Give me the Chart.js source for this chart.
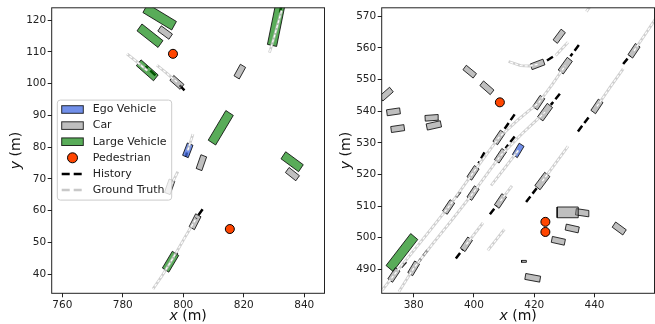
<!DOCTYPE html>
<html>
<head>
<meta charset="utf-8">
<script src="https://cdn.jsdelivr.net/npm/chart.js@4.4.0/dist/chart.umd.min.js"></script>
<style>
  html, body { margin: 0; padding: 0; background: #fff; overflow: hidden; }
  #wrap { position: relative; width: 655px; height: 324px; overflow: hidden; }
  .panel { position: absolute; top: 0; width: 330px; height: 324px; }
</style>
</head>
<body>
<div id="wrap">
  <div class="panel" style="left:0"><canvas id="left" width="330" height="324"></canvas></div>
  <div class="panel" style="left:330px"><canvas id="right" width="330" height="324"></canvas></div>
</div>
<script>
// ---------- left scene ----------
const leftXTicks = [760, 780, 800, 820, 840];
const leftYTicks = [40, 50, 60, 70, 80, 90, 100, 110, 120];
const leftXLim = [756.5, 846.7];
const leftYLim = [33.95, 123.9];

// vehicles: [x, y, heading deg, length, width] (m)
const leftEgo = [[801.5, 79.0, 68, 4.2, 2.0]];
const leftCars = [
  [794.0, 116.1, -35, 4.5, 2.0],
  [797.9, 100.4, -40, 4.4, 2.0],
  [818.7, 103.8, 60, 4.2, 2.0],
  [806.0, 75.1, 70, 4.6, 2.0],
  [836.1, 71.5, -37, 4.3, 2.0],
  [795.5, 67.5, 70, 4.5, 2.0],
  [803.9, 56.5, 62, 4.6, 2.0]
];
const leftLarge = [
  [792.2, 121.0, -30, 11, 3.1],
  [789.0, 115.1, -37, 8.7, 2.7],
  [788.1, 104.2, -40, 7.4, 2.4],
  [830.8, 118.9, 78, 14, 3.1],
  [812.4, 86.1, 58, 11, 2.9],
  [836.0, 75.4, -35, 7.1, 2.7],
  [795.8, 43.9, 58, 6.2, 2.5]
];
const leftPeds = [[796.6, 109.4], [815.4, 54.2]];
const leftHistory = [
  [[790.8, 102.6], [787.5, 105.5]],
  [[800.4, 97.9], [798.0, 100.3]],
  [[800.9, 77.0], [801.2, 78.3]],
  [[806.4, 60.4], [804.2, 57.5]],
  [[798.0, 46.8], [797.0, 45.5]],
  [[832.4, 124.5], [831.8, 121.5]]
];
const leftTruth = [
  [[788.1, 104.1], [784.5, 107.0], [781.4, 109.4]],
  [[797.9, 100.5], [794.5, 103.3], [791.3, 105.8]],
  [[832.5, 123.0], [830.0, 114.5], [828.5, 109.8]],
  [[801.5, 79.0], [803.2, 84.1]],
  [[796.0, 68.0], [798.2, 72.3]],
  [[804.0, 57.1], [800.5, 51.5], [797.5, 46.5], [795.8, 43.8], [793.0, 39.5], [790.0, 35.3]]
];

// ---------- right scene ----------
const rightXTicks = [380, 400, 420, 440];
const rightYTicks = [490, 500, 510, 520, 530, 540, 550, 560, 570];
const rightXLim = [369.4, 459.9];
const rightYLim = [482.4, 572.7];

const rightEgo = [[414.7, 527.6, 58, 4.2, 1.9]];
const rightCars = [
  [373.45, 488.2, 55, 4.3, 1.9],
  [380.0, 490.3, 58, 4.3, 1.9],
  [397.5, 497.9, 55, 4.3, 1.9],
  [391.6, 509.7, 55, 4.3, 1.9],
  [399.7, 514.1, 55, 4.3, 1.9],
  [399.7, 520.5, 55, 4.3, 1.9],
  [408.8, 511.6, 55, 4.3, 1.9],
  [408.8, 525.9, 55, 4.3, 1.9],
  [408.3, 531.7, 55, 4.3, 1.9],
  [422.7, 517.9, 52, 5.3, 2.2],
  [421.5, 542.7, 55, 4.3, 1.9],
  [423.6, 539.7, 53, 5.3, 2.2],
  [430.3, 554.4, 53, 5.0, 2.1],
  [421.1, 554.8, 20, 4.5, 1.9],
  [428.3, 563.7, 52, 4.3, 1.8],
  [440.8, 541.5, 55, 4.3, 1.9],
  [453.1, 559.1, 55, 4.3, 1.9],
  [398.6, 552.5, -38, 4.3, 1.8],
  [404.3, 547.4, -40, 4.5, 1.9],
  [370.9, 545.4, 40, 4.5, 1.9],
  [373.3, 539.8, 8, 4.4, 1.9],
  [374.7, 534.5, 8, 4.4, 1.9],
  [386.0, 537.9, 4, 4.4, 1.8],
  [386.7, 535.5, 12, 4.8, 2.0],
  [431.1, 508.0, 0, 7.0, 3.4],
  [435.9, 507.9, -8, 4.2, 2.0],
  [432.6, 502.9, -12, 4.4, 1.9],
  [428.0, 499.0, -12, 4.4, 1.9],
  [448.2, 502.9, -35, 4.3, 2.0],
  [416.6, 492.5, 0, 1.6, 0.6],
  [419.5, 487.3, -10, 5.0, 1.9]
];
const rightLarge = [[376.1, 495.3, 51, 13, 3.0]];
const rightPeds = [[408.6, 542.8], [423.7, 505.0], [423.7, 501.8]];
const rightHistory = [
  [[377.5, 492.3], [375.0, 489.8]],
  [[384.6, 496.0], [381.7, 492.4]],
  [[394.0, 493.4], [396.3, 496.3]],
  [[405.3, 507.4], [407.6, 510.2]],
  [[417.3, 511.3], [420.8, 515.6]],
  [[395.5, 514.5], [393.3, 511.8]],
  [[403.5, 527.0], [401.5, 523.5]],
  [[413.5, 532.0], [410.5, 528.3]],
  [[413.5, 539.0], [409.5, 533.5]],
  [[428.5, 545.5], [425.5, 542.0]],
  [[434.8, 560.9], [432.0, 557.4]],
  [[426.2, 557.2], [423.5, 555.6]],
  [[434.5, 533.6], [438.5, 538.6]],
  [[449.5, 554.9], [451.8, 557.6]]
];
const rightTruth = [
  [[369.6, 483.4], [373.5, 488.2], [379.5, 495.3], [385.5, 502.4], [391.6, 509.7], [399.7, 520.5], [408.3, 531.7], [414.8, 537.4], [421.5, 542.7], [426.0, 548.5], [430.3, 554.4]],
  [[375.1, 482.9], [380.0, 490.3], [386.3, 498.0], [392.6, 505.5], [399.7, 514.1], [408.8, 525.9], [416.2, 533.1], [423.6, 539.7]],
  [[414.7, 527.6], [410.2, 522.0], [405.7, 516.5]],
  [[422.7, 517.9], [427.0, 523.4], [431.2, 528.9]],
  [[408.8, 511.6], [412.6, 516.4]],
  [[404.6, 496.0], [410.1, 502.6]],
  [[397.5, 497.9], [403.0, 504.7]],
  [[440.8, 541.5], [445.2, 547.6], [449.5, 553.4]],
  [[453.1, 559.1], [457.0, 564.6], [461.5, 571.0]],
  [[421.1, 554.8], [418.5, 554.3], [415.5, 554.4], [411.5, 555.7]],
  [[431.2, 561.8], [427.1, 557.6]],
  [[437.3, 571.5], [438.8, 573.5]]
];

const legendLabels = ['Ego Vehicle', 'Car', 'Large Vehicle', 'Pedestrian', 'History', 'Ground Truth'];

const EGO_FILL = 'rgba(65,105,225,0.75)';
const CAR_FILL = 'rgba(128,128,128,0.5)';
const LARGE_FILL = 'rgba(0,128,0,0.65)';
const EDGE = 'rgba(0,0,0,0.8)';
const PED_FILL = '#ff4500';
const TRUTH_COLOR = 'rgba(195,195,195,0.8)';
const FONT = 'DejaVu Sans';

const pts = (list) => list.map(([x, y]) => ({ x, y }));

// rectangle outline of a vehicle in metres
function box(v) {
  const [x, y, h, len, wid] = v;
  const a = h * Math.PI / 180, c = Math.cos(a), s = Math.sin(a);
  const hl = len / 2, hw = wid / 2;
  return [[hl, hw], [-hl, hw], [-hl, -hw], [hl, -hw], [hl, hw]]
    .map(([u, w]) => ({ x: x + u * c - w * s, y: y + u * s + w * c }));
}

function sceneDatasets(s) {
  const sets = [];
  s.history.forEach((p) => sets.push({
    data: pts(p), borderColor: '#000', borderWidth: 2.5, borderDash: [7, 3.5],
    pointRadius: 0, fill: false, order: 4
  }));
  [[s.ego, EGO_FILL], [s.cars, CAR_FILL], [s.large, LARGE_FILL]].forEach(([list, col]) => {
    list.forEach((v) => sets.push({
      data: box(v), backgroundColor: col, borderColor: EDGE, borderWidth: 1,
      borderJoinStyle: 'miter', pointRadius: 0, fill: 'shape', order: 3
    }));
  });
  s.truth.forEach((p) => {
    sets.push({ data: pts(p), borderColor: TRUTH_COLOR, borderWidth: 2.8, pointRadius: 0, fill: false, order: 2 });
    sets.push({ data: pts(p), borderColor: '#fff', borderWidth: 1.2, borderDash: [3, 2], pointRadius: 0, fill: false, order: 1.5 });
  });
  sets.push({
    data: pts(s.peds), showLine: false, pointRadius: 4.5,
    pointBackgroundColor: PED_FILL, pointBorderColor: '#000', pointBorderWidth: 1, order: 1
  });
  return sets;
}

function drawLabel(ctx, cx, cy, italicPart, rest) {
  ctx.font = 'italic 14px "' + FONT + '"';
  const w1 = ctx.measureText(italicPart).width;
  ctx.font = '14px "' + FONT + '"';
  const w2 = ctx.measureText(rest).width;
  const x0 = cx - (w1 + w2) / 2;
  ctx.textBaseline = 'middle';
  ctx.textAlign = 'left';
  ctx.fillStyle = '#111';
  ctx.font = 'italic 14px "' + FONT + '"';
  ctx.fillText(italicPart, x0, cy);
  ctx.font = '14px "' + FONT + '"';
  ctx.fillText(rest, x0 + w1, cy);
}

const framePlugin = {
  id: 'frame',
  afterDraw(chart) {
    const { ctx, chartArea: ca } = chart;
    ctx.save();
    ctx.strokeStyle = '#222';
    ctx.lineWidth = 1;
    ctx.strokeRect(ca.left, ca.top, ca.right - ca.left, ca.bottom - ca.top);
    drawLabel(ctx, (ca.left + ca.right) / 2, ca.bottom + 23, 'x', ' (m)');
    ctx.translate(16, (ca.top + ca.bottom) / 2);
    ctx.rotate(-Math.PI / 2);
    drawLabel(ctx, 0, 0, 'y', ' (m)');
    ctx.restore();
  }
};

const legendPlugin = {
  id: 'sceneLegend',
  afterDraw(chart, args, opts) {
    if (!opts.show) return;
    const { ctx, chartArea: ca } = chart;
    const x0 = ca.left + 5.6, y0 = ca.top + 92.3, w = 114.4, h = 100, r = 3;
    ctx.save();
    ctx.beginPath();
    ctx.moveTo(x0 + r, y0);
    ctx.arcTo(x0 + w, y0, x0 + w, y0 + h, r);
    ctx.arcTo(x0 + w, y0 + h, x0, y0 + h, r);
    ctx.arcTo(x0, y0 + h, x0, y0, r);
    ctx.arcTo(x0, y0, x0 + w, y0, r);
    ctx.closePath();
    ctx.fillStyle = 'rgba(255,255,255,0.8)';
    ctx.fill();
    ctx.strokeStyle = '#cccccc';
    ctx.lineWidth = 1;
    ctx.stroke();

    const patchFills = [EGO_FILL, CAR_FILL, LARGE_FILL];
    const hx = x0 + 4.4, hw = 21.6;
    legendLabels.forEach((label, i) => {
      const cy = y0 + 9.4 + i * 16.1;
      if (i < 3) {
        ctx.fillStyle = patchFills[i];
        ctx.fillRect(hx, cy - 3.8, hw, 7.6);
        ctx.strokeStyle = EDGE;
        ctx.lineWidth = 1;
        ctx.strokeRect(hx, cy - 3.8, hw, 7.6);
      } else if (i === 3) {
        ctx.beginPath();
        ctx.arc(hx + hw / 2, cy, 5, 0, Math.PI * 2);
        ctx.fillStyle = PED_FILL;
        ctx.fill();
        ctx.strokeStyle = '#000';
        ctx.stroke();
      } else {
        ctx.beginPath();
        ctx.setLineDash([8, 4]);
        ctx.moveTo(hx, cy);
        ctx.lineTo(hx + hw, cy);
        ctx.strokeStyle = i === 4 ? '#000' : '#c8c8c8';
        ctx.lineWidth = 2.5;
        ctx.stroke();
        ctx.setLineDash([]);
      }
      ctx.fillStyle = '#222';
      ctx.font = '11px "' + FONT + '"';
      ctx.textAlign = 'left';
      ctx.textBaseline = 'middle';
      ctx.fillText(label, x0 + 35.4, cy);
    });
    ctx.restore();
  }
};

function axis(lim, ticks, fit) {
  return {
    type: 'linear',
    min: lim[0],
    max: lim[1],
    afterBuildTicks: (s) => { s.ticks = ticks.map((v) => ({ value: v })); },
    afterFit: fit,
    grid: { drawOnChartArea: false, drawTicks: true, tickLength: 4, color: '#222' },
    border: { display: false },
    ticks: { font: { family: FONT, size: 10.5 }, color: '#222', padding: 1.5, maxRotation: 0, autoSkip: false }
  };
}

function makeChart(id, scene, showLegend) {
  new Chart(document.getElementById(id), {
    type: 'line',
    data: { datasets: sceneDatasets(scene) },
    options: {
      responsive: false,
      animation: false,
      events: [],
      layout: { padding: { top: 7, right: 2.7, left: 0, bottom: 0 } },
      scales: {
        x: axis(scene.xLim, scene.xTicks, (s) => { s.height = 30.7; }),
        y: axis(scene.yLim, scene.yTicks, (s) => { s.width = 51.7; })
      },
      plugins: {
        legend: { display: false },
        tooltip: { enabled: false },
        sceneLegend: { show: showLegend }
      }
    },
    plugins: [framePlugin, legendPlugin]
  });
}

makeChart('left', {
  xLim: leftXLim, yLim: leftYLim, xTicks: leftXTicks, yTicks: leftYTicks,
  ego: leftEgo, cars: leftCars, large: leftLarge, peds: leftPeds,
  history: leftHistory, truth: leftTruth
}, true);

makeChart('right', {
  xLim: rightXLim, yLim: rightYLim, xTicks: rightXTicks, yTicks: rightYTicks,
  ego: rightEgo, cars: rightCars, large: rightLarge, peds: rightPeds,
  history: rightHistory, truth: rightTruth
}, false);
</script>
</body>
</html>
